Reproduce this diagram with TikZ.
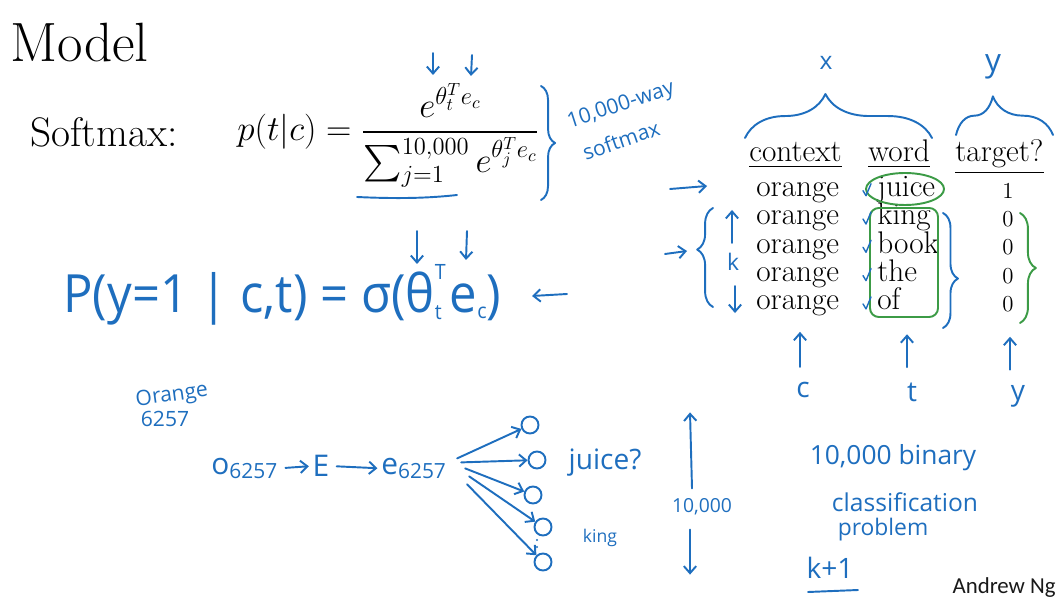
\RequirePackage{fix-cm}
\documentclass[tikz,border=0pt]{standalone}
\usepackage{amsmath}
\usepackage{fontspec}
\newfontfamily\handfont{Open Sans}
\newfontfamily\ngfont{Carlito}
\usetikzlibrary{arrows.meta,decorations.pathreplacing,positioning}

\definecolor{penblue}{RGB}{30,110,190}
\definecolor{pengreen}{RGB}{60,155,70}
\definecolor{inkgray}{RGB}{25,25,25}
\newcommand{\sz}[1]{\fontsize{#1}{#1}\selectfont}

\tikzset{
  pen/.style={penblue, line width=1.1pt, line cap=round, line join=round},
  greenpen/.style={pengreen, line width=1.1pt, line cap=round, line join=round},
  hand/.style={text=penblue, inner sep=0pt, font=\handfont\sz{#1}},
  hand/.default=14,
  cell/.style={inner sep=0pt, anchor=base west, font=\sz{17.8}},
  bit/.style={inner sep=0pt, anchor=base, font=\sz{13}},
  curly/.style={pen, decorate, decoration={brace, amplitude=#1}},
  outnode/.style={pen, draw, circle, inner sep=0pt, minimum size=0.34cm}
}

\begin{document}
\begin{tikzpicture}[x=0.02cm, y=-0.02cm, >={Straight Barb[length=4pt,width=7pt]}]
\useasboundingbox (0,0) rectangle (1060,597);

% slide text
\node[anchor=base west, inner sep=0pt, font=\sz{31.5}] (title) at (10,62) {Model};
\node[anchor=base west, inner sep=0pt, font=\sz{23.5}] (smx) at (30,147) {Softmax:};
\node[anchor=base west, inner sep=0pt, font=\sz{20}] (pform) at (237,141)
  {$p(t|c) = \dfrac{e^{\theta_t^T e_c}}{\sum_{j=1}^{10{,}000} e^{\theta_j^T e_c}}$};

\node[cell] (hctx) at (749,162) {\underline{context}};
\node[cell] (hwrd) at (868,162) {\underline{word}};
\node[cell] (htgt) at (955,162) {\underline{target?}};
\foreach \w/\v [count=\i] in {juice/1,king/0,book/0,the/0,of/0} {
  \node[cell] (c\i) at (756,168.4+28.3*\i) {orange};
  \node[cell] (w\i) at (877,168.4+28.3*\i) {\w};
  \node[bit] (t\i) at (1008,170+28.3*\i) {\v};
}

\node[anchor=base east, inner sep=0pt, text=inkgray, font=\ngfont\sz{13}] (author) at (1056,593) {Andrew Ng};

% softmax notes
\draw[pen,->] (433,53) -- (433,75);
\draw[pen,->] (472,55) -- (471,76);
\draw[pen] (357,197) .. controls (400,199) and (430,198) .. (457,195);
\draw[curly=8pt] (541,86) -- (541,200);
\node[hand=12, rotate=18] (way) at (621,106) {10,000-way};
\node[hand=12, rotate=19] (sfm) at (621,140) {softmax};

% logistic version
\node[hand=30, anchor=base west] (sig) at (63,313)
  {\scalebox{0.93}[1]{P(y=1 | c,t) = σ(θ\rlap{\raisebox{0.64em}{\sz{12}T}}\raisebox{-0.12em}{\sz{12}t}\,e\raisebox{-0.1em}{\sz{12}c})}};
\draw[pen,->] (417,231) -- (417,264);
\draw[pen,->] (467,231) -- (466,260);
\draw[pen,->] (567,294) -- (532,296);

% table notes
\node[hand=14] (xlbl) at (826,63) {x};
\node[hand=18] (ylbl) at (993,67) {y};
\draw[curly=25pt, decoration={aspect=0.43}] (745,138) -- (932,138);
\draw[curly=22pt, decoration={aspect=0.38}] (956,135) -- (1053,135);

\draw[greenpen] (905,189) ellipse [x radius=39, y radius=16];
\draw[greenpen, rounded corners=5pt] (870,208) rectangle (938,317);
\foreach \i in {1,...,5}
  \draw[pen, line width=0.8pt] (w\i.base west) ++(-14,-6) -- ++(3,5) -- ++(5,-12);
\draw[curly=8.5pt, decoration={aspect=0.57}] (943,213) -- (943,328);
\draw[greenpen, decorate, decoration={brace, amplitude=9pt, aspect=0.5}] (1020,213) -- (1020,323);

\draw[pen,->] (670,189) -- (707,186);
\draw[pen,->] (665,254) -- (687,251);
\draw[curly=9pt, decoration={aspect=0.58}] (713,307) -- (713,208);
\node[hand=13] (klbl) at (733,262) {k};
\draw[pen,->] (klbl.north) ++(-1,-10) -- ++(0,-33);
\draw[pen,->] (klbl.south) ++(2,15) -- ++(0,27);

\node[hand=16] (lc) at (803,390) {c};
\node[hand=16] (lt) at (912,392) {t};
\node[hand=16] (ly) at (1018,396) {y};
\draw[pen,->] (lc.north) ++(-3,-15) -- ++(0,-35);
\draw[pen,->] (lt.north) ++(-5,-15) -- ++(0,-33);
\draw[pen,->] (ly.north) ++(-8,-15) -- ++(0,-33);

% network
\node[hand=12, rotate=8] (orng) at (172,396) {Orange};
\node[hand=12] (oid) at (165,419) {6257};
\node[hand=17, anchor=base west] (onehot) at (211,474) {o\textsubscript{6257}};
\node[hand=17] (emb) at (321,466) {E};
\node[hand=17, anchor=base west] (evec) at (381,474) {e\textsubscript{6257}};
\draw[pen,->, shorten <=4pt, shorten >=2pt] (onehot.east) -- (emb.west);
\draw[pen,->, shorten <=4pt, shorten >=2pt] (emb.east) -- (evec.west);
\foreach \y/\x [count=\i] in {425/530,460/537,495/533,527/543,562/543}
  \node[outnode] (out\i) at (\x,\y) {};
\draw[pen,->] (evec.east) ++(10,-10) -- (out1);
\draw[pen,->] (evec.east) ++(14,-6) -- (out2);
\draw[pen,->] (evec.east) ++(18,0) -- (out3);
\draw[pen,->] (evec.east) ++(22,8) -- (out4);
\draw[pen,->] (evec.east) ++(20,16) -- (out5);
\fill[penblue] (537,540) circle [radius=1.2] (537,547) circle [radius=1.2];
\node[hand=16] (q1) at (605,463) {juice?};
\node[hand=10] (q2) at (600,538) {king};

\node[hand=11] (tenk) at (702,507) {10,000};
\draw[pen,->] (tenk.north) ++(-10,-10) -- ++(-2,-76);
\draw[pen,->] (tenk.south) ++(-12,14) -- ++(0,45);

\node[hand=15] (bin1) at (893,458) {10,000 binary};
\node[hand=14] (bin2) at (905,502) {classification};
\node[hand=13] (bin3) at (883,530) {problem};
\node[hand=16] (kp1) at (830,568) {k+1};
\draw[pen] (808,592) -- (858,590);
\end{tikzpicture}
\end{document}
